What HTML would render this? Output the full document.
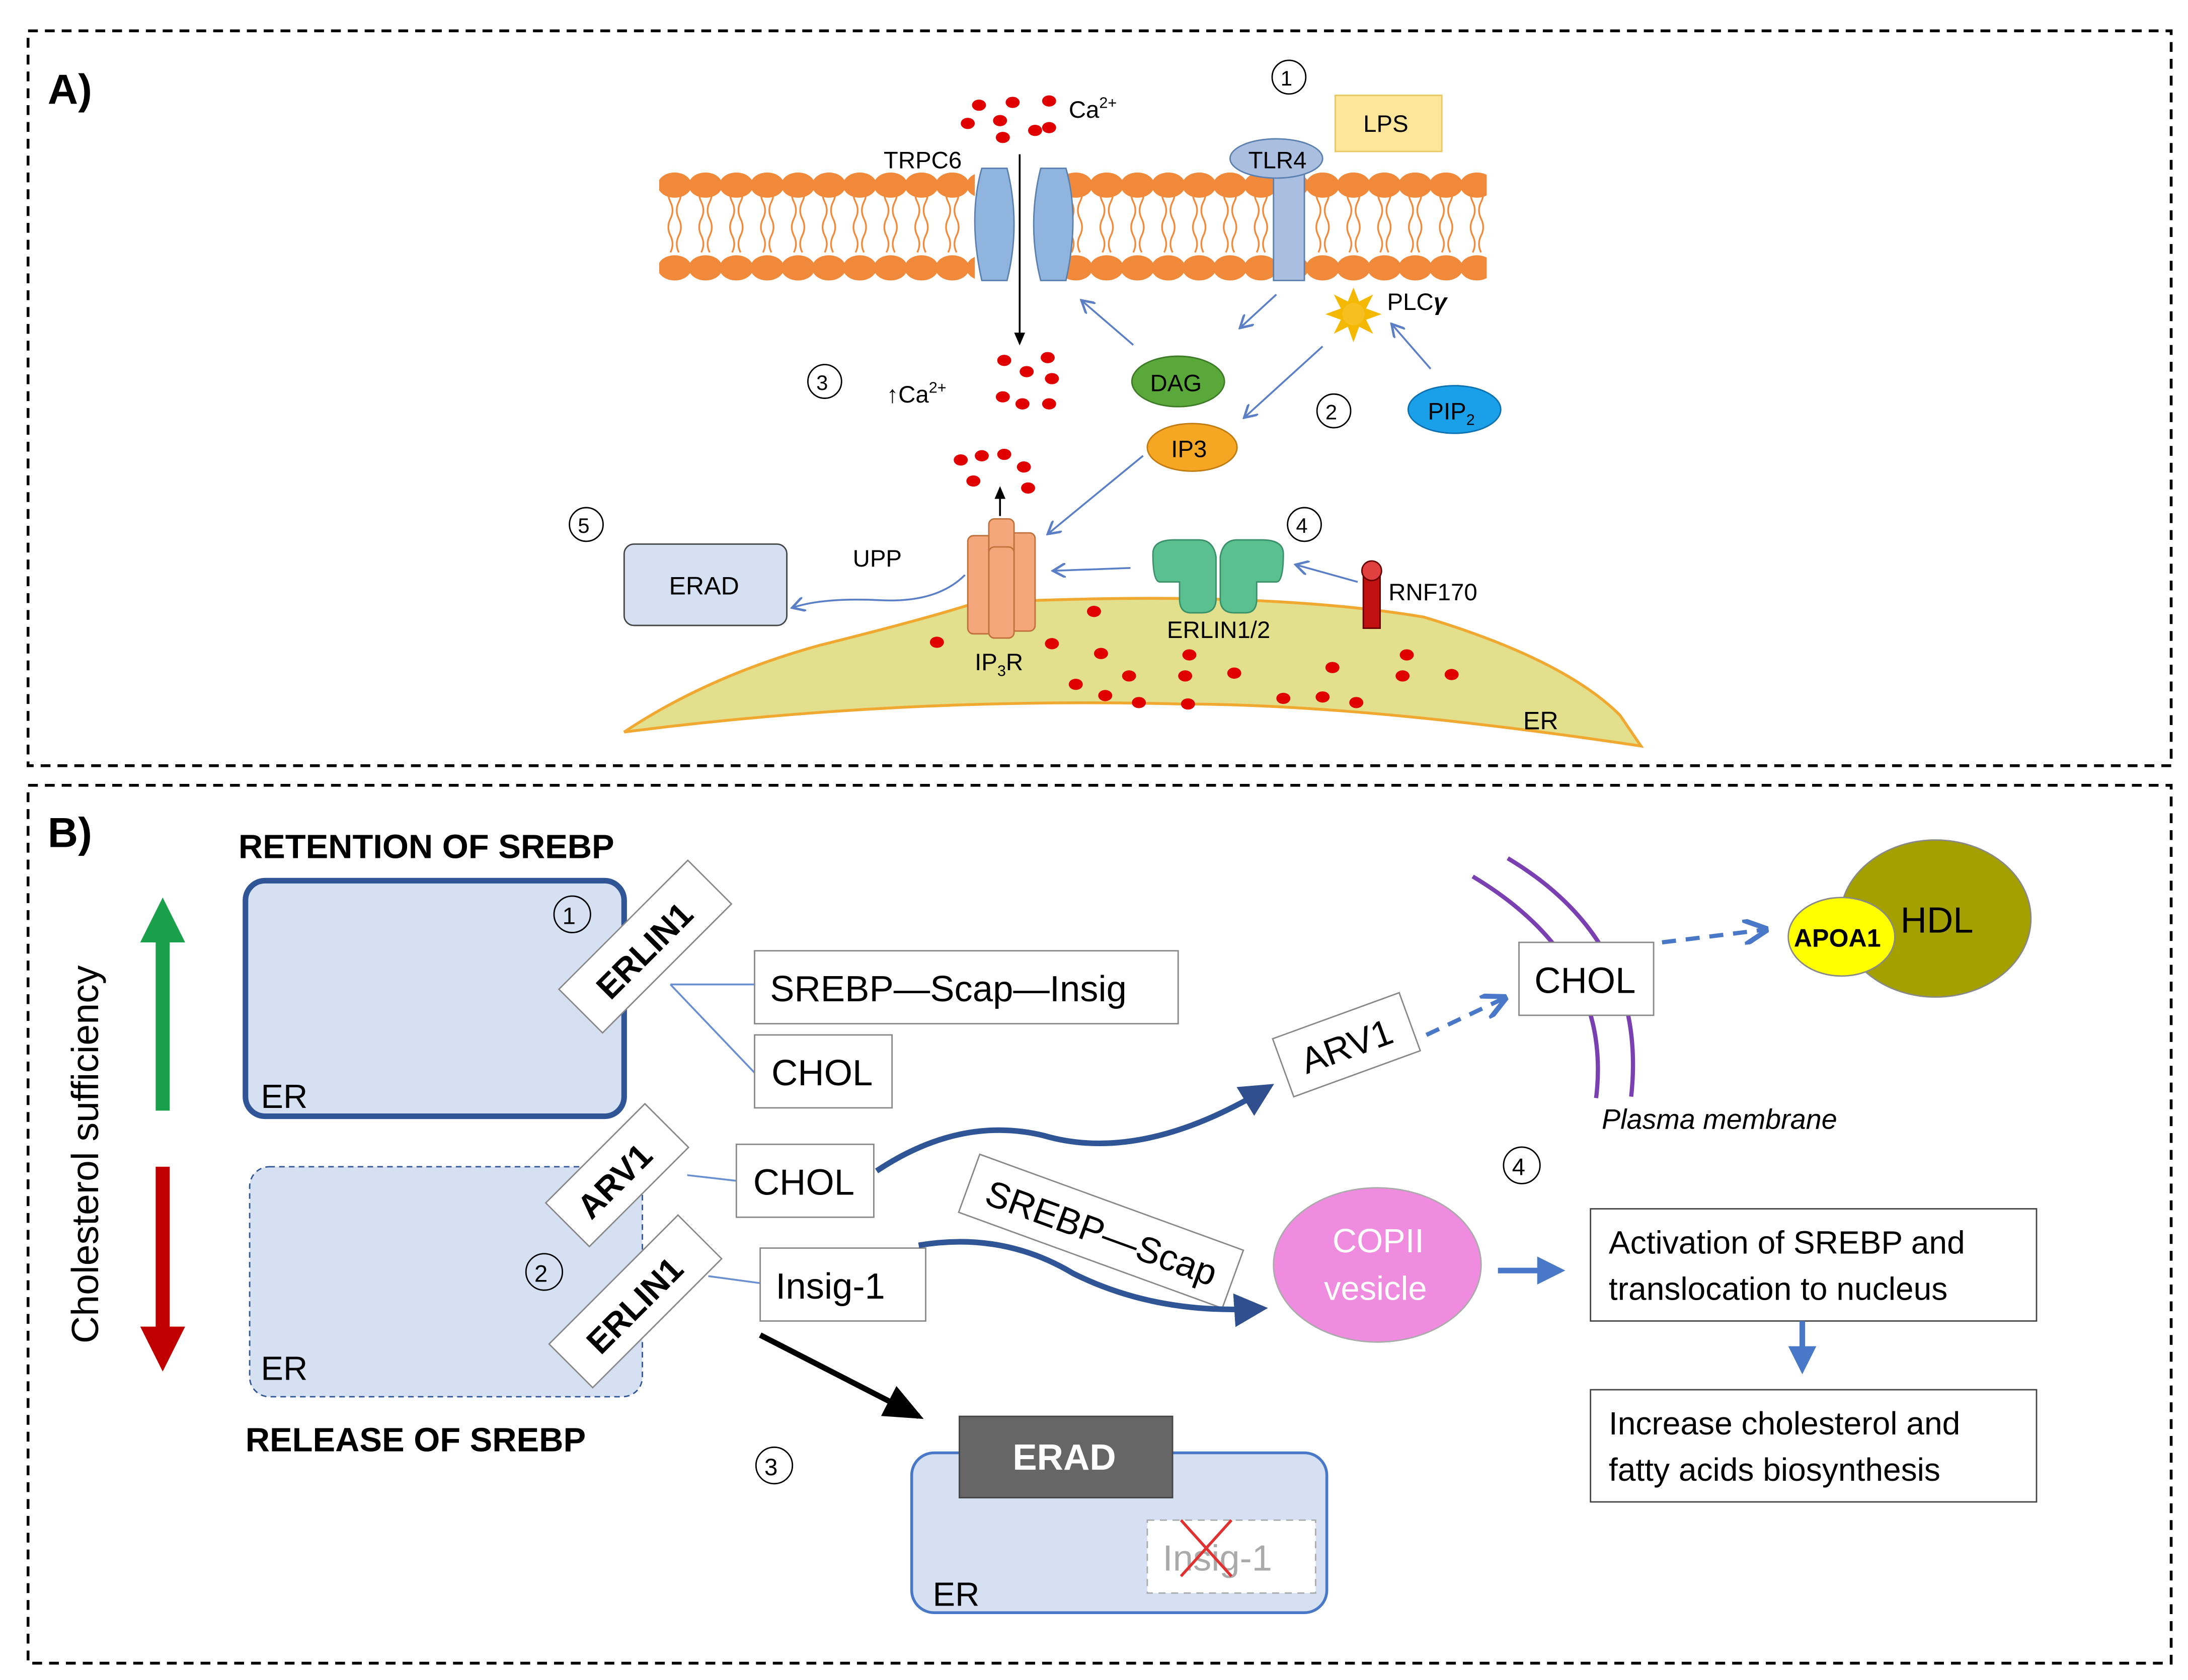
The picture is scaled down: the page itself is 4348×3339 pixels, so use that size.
<!DOCTYPE html>
<html><head><meta charset="utf-8"><style>
html,body{margin:0;padding:0;background:#fff}
svg{display:block}
text{font-family:"Liberation Sans",sans-serif}
</style></head><body>
<svg width="4348" height="3339" viewBox="0 0 1560 1198" preserveAspectRatio="none" xmlns="http://www.w3.org/2000/svg">
<defs>
<pattern id="lipT" x="470" y="120" width="22" height="80" patternUnits="userSpaceOnUse">
<g stroke="#f08a3a" stroke-width="1.2" fill="none">
<path d="M8 12 q-3 6 0 12 q3 6 0 12 q-3 6 0 12 q3 6 0 12"/>
<path d="M14 12 q3 6 0 12 q-3 6 0 12 q3 6 0 12 q-3 6 0 12"/>
</g>
<ellipse cx="11" cy="12" rx="12" ry="9" fill="#f08a3a"/>
<ellipse cx="11" cy="71" rx="12" ry="9" fill="#f08a3a"/>
</pattern>
<marker id="ab" markerWidth="8" markerHeight="8" refX="6" refY="4" orient="auto"><path d="M0,0 L7,4 L0,8" fill="none" stroke="#5b7fc7" stroke-width="1.3"/></marker>
<marker id="ak" markerWidth="8" markerHeight="8" refX="6" refY="4" orient="auto"><path d="M0,1 L7,4 L0,7z" fill="#000"/></marker>
<marker id="ad" markerWidth="6" markerHeight="6" refX="5" refY="3" orient="auto"><path d="M0,0 L6,3 L0,6z" fill="#2f4f8f"/></marker>
<marker id="ab2" markerWidth="6" markerHeight="6" refX="5" refY="3" orient="auto"><path d="M0,0 L6,3 L0,6" fill="none" stroke="#4a78c8" stroke-width="1.2"/></marker>
<marker id="af" markerWidth="5" markerHeight="5" refX="4" refY="2.5" orient="auto"><path d="M0,0 L5,2.5 L0,5z" fill="#4a78c8"/></marker>
</defs>
<rect x="20" y="22" width="1528" height="524" fill="none" stroke="#000" stroke-width="2" stroke-dasharray="7,5"/>
<rect x="20" y="560" width="1528" height="626" fill="none" stroke="#000" stroke-width="2" stroke-dasharray="7,5"/>
<text x="34" y="74" font-size="30" font-weight="bold">A)</text>
<text x="34" y="604" font-size="30" font-weight="bold">B)</text>

<!-- membrane -->
<rect x="470" y="120" width="225" height="82" fill="url(#lipT)"/>
<rect x="758" y="120" width="302" height="82" fill="url(#lipT)"/>
<!-- TRPC6 -->
<path d="M700 120 q-10 35 0 80 h18 q10 -40 0 -80z" fill="#8fb4dd" stroke="#5a80b0"/>
<path d="M760 120 q10 35 0 80 h-18 q-10 -40 0 -80z" fill="#8fb4dd" stroke="#5a80b0"/>
<line x1="727" y1="110" x2="727" y2="245" stroke="#000" stroke-width="1.3" marker-end="url(#ak)"/>
<text x="630" y="120" font-size="17">TRPC6</text>
<!-- TLR4 -->
<rect x="908" y="118" width="22" height="82" fill="#aabfe0" stroke="#5a80b0"/>
<ellipse cx="910" cy="113" rx="33" ry="14" fill="#aabfe0" stroke="#5a80b0"/>
<text x="890" y="120" font-size="17">TLR4</text>
<rect x="952" y="68" width="76" height="40" fill="#fde59a" stroke="#e9c860"/>
<text x="972" y="94" font-size="17">LPS</text>
<circle cx="919" cy="55" r="12" fill="none" stroke="#000"/><text x="913" y="61" font-size="15">1</text>
<!-- Ca dots -->
<g fill="#e00000">
<ellipse cx="698" cy="75" rx="5" ry="4"/><ellipse cx="722" cy="73" rx="5" ry="4"/><ellipse cx="748" cy="72" rx="5" ry="4"/>
<ellipse cx="690" cy="88" rx="5" ry="4"/><ellipse cx="713" cy="86" rx="5" ry="4"/><ellipse cx="738" cy="93" rx="5" ry="4"/><ellipse cx="748" cy="91" rx="5" ry="4"/><ellipse cx="715" cy="98" rx="5" ry="4"/>
<ellipse cx="716" cy="257" rx="5" ry="4"/><ellipse cx="747" cy="255" rx="5" ry="4"/><ellipse cx="732" cy="265" rx="5" ry="4"/><ellipse cx="750" cy="270" rx="5" ry="4"/><ellipse cx="715" cy="283" rx="5" ry="4"/><ellipse cx="729" cy="288" rx="5" ry="4"/><ellipse cx="748" cy="288" rx="5" ry="4"/>
<ellipse cx="685" cy="328" rx="5" ry="4"/><ellipse cx="700" cy="325" rx="5" ry="4"/><ellipse cx="716" cy="324" rx="5" ry="4"/><ellipse cx="730" cy="333" rx="5" ry="4"/><ellipse cx="694" cy="343" rx="5" ry="4"/><ellipse cx="733" cy="348" rx="5" ry="4"/>
</g>
<text x="762" y="84" font-size="17">Ca<tspan font-size="11" dy="-7">2+</tspan></text>
<circle cx="588" cy="272" r="12" fill="none" stroke="#000"/><text x="582" y="278" font-size="15">3</text>
<text x="632" y="287" font-size="17">↑Ca<tspan font-size="11" dy="-7">2+</tspan></text>
<!-- signaling -->
<ellipse cx="840" cy="272" rx="33" ry="18" fill="#5aa83a" stroke="#3d7a25"/><text x="820" y="279" font-size="17">DAG</text>
<ellipse cx="850" cy="319" rx="32" ry="17" fill="#f5a623" stroke="#c07a10"/><text x="835" y="326" font-size="17">IP3</text>
<ellipse cx="1037" cy="292" rx="33" ry="17" fill="#1aa0e8" stroke="#0a70b0"/><text x="1018" y="299" font-size="17">PIP<tspan font-size="11" dy="4">2</tspan></text>
<polygon points="965,205 969,215 979,210 974,220 985,224 974,228 979,238 969,233 965,244 961,233 951,238 956,228 945,224 956,220 951,210 961,215" fill="#f5b800"/>
<circle cx="965" cy="224" r="8" fill="#f5c020"/>
<text x="989" y="221" font-size="17">PLC<tspan font-weight="bold" font-style="italic">γ</tspan></text>
<circle cx="951" cy="293" r="12" fill="none" stroke="#000"/><text x="945" y="299" font-size="15">2</text>
<g stroke="#5b7fc7" stroke-width="1.3" fill="none" marker-end="url(#ab)">
<line x1="910" y1="210" x2="885" y2="233"/>
<line x1="808" y1="246" x2="772" y2="215"/>
<line x1="1020" y1="263" x2="993" y2="232"/>
<line x1="943" y1="247" x2="888" y2="297"/>
<line x1="815" y1="325" x2="748" y2="380"/>
<line x1="806" y1="405" x2="752" y2="407"/>
<line x1="968" y1="415" x2="925" y2="403"/>
<path d="M688 410 q-20 20 -60 18 q-40 -2 -62 5"/>
</g>
<!-- ER A -->
<path d="M445 522 q60 -40 140 -62 q80 -20 110 -30 q200 -10 320 10 q100 30 140 70 l15 22 q-200 -30 -330 -30 q-200 -5 -395 20z" fill="#e2df8d" stroke="#f0a830" stroke-width="2"/>
<g fill="#e00000">
<ellipse cx="668" cy="458" rx="5" ry="4"/><ellipse cx="780" cy="436" rx="5" ry="4"/><ellipse cx="750" cy="459" rx="5" ry="4"/><ellipse cx="785" cy="466" rx="5" ry="4"/><ellipse cx="805" cy="482" rx="5" ry="4"/><ellipse cx="767" cy="488" rx="5" ry="4"/><ellipse cx="788" cy="496" rx="5" ry="4"/><ellipse cx="812" cy="501" rx="5" ry="4"/><ellipse cx="848" cy="467" rx="5" ry="4"/><ellipse cx="845" cy="482" rx="5" ry="4"/><ellipse cx="880" cy="480" rx="5" ry="4"/><ellipse cx="847" cy="502" rx="5" ry="4"/><ellipse cx="915" cy="498" rx="5" ry="4"/><ellipse cx="943" cy="497" rx="5" ry="4"/><ellipse cx="967" cy="501" rx="5" ry="4"/><ellipse cx="950" cy="476" rx="5" ry="4"/><ellipse cx="1003" cy="467" rx="5" ry="4"/><ellipse cx="1000" cy="482" rx="5" ry="4"/><ellipse cx="1035" cy="481" rx="5" ry="4"/>
</g>
<text x="1086" y="520" font-size="18">ER</text>
<!-- IP3R -->
<g fill="#f4a77a" stroke="#c0703a">
<rect x="690" y="382" width="18" height="70" rx="4"/><rect x="720" y="380" width="18" height="70" rx="4"/><rect x="705" y="370" width="18" height="30" rx="4"/><rect x="705" y="390" width="18" height="65" rx="4"/>
</g>
<line x1="713" y1="368" x2="713" y2="348" stroke="#000" stroke-width="1.3" marker-end="url(#ak)"/>
<text x="695" y="478" font-size="17">IP<tspan font-size="11" dy="4">3</tspan><tspan dy="-4">R</tspan></text>
<!-- ERLIN1/2 -->
<path d="M822 395 q0 -10 15 -10 h18 q10 0 12 12 v30 q0 10 -10 10 h-8 q-8 0 -8 -10 v-12 h-14 q-5 0 -5 -20z" fill="#5ac08f" stroke="#3a9068"/>
<path d="M915 395 q0 -10 -15 -10 h-18 q-10 0 -12 12 v30 q0 10 10 10 h8 q8 0 8 -10 v-12 h14 q5 0 5 -20z" fill="#5ac08f" stroke="#3a9068"/>
<text x="832" y="455" font-size="17">ERLIN1/2</text>
<circle cx="930" cy="374" r="12" fill="none" stroke="#000"/><text x="924" y="380" font-size="15">4</text>
<rect x="972" y="408" width="12" height="40" fill="#c01010" stroke="#600"/><circle cx="978" cy="407" r="7" fill="#e04040" stroke="#600"/>
<text x="990" y="428" font-size="17">RNF170</text>
<circle cx="418" cy="374" r="12" fill="none" stroke="#000"/><text x="412" y="380" font-size="15">5</text>
<rect x="445" y="388" width="116" height="58" rx="7" fill="#d6e0f3" stroke="#444"/><text x="477" y="424" font-size="18">ERAD</text>
<text x="608" y="404" font-size="17">UPP</text>

<!-- Panel B -->
<text x="170" y="612" font-size="24" font-weight="bold">RETENTION OF SREBP</text>
<text x="175" y="1035" font-size="24" font-weight="bold">RELEASE OF SREBP</text>
<text transform="translate(70,958) rotate(-90)" font-size="27">Cholesterol sufficiency</text>
<polygon points="116,640 100,672 111,672 111,792 121,792 121,672 132,672" fill="#1aa04a"/>
<polygon points="116,978 100,946 111,946 111,832 121,832 121,946 132,946" fill="#c00000"/>
<rect x="175" y="628" width="270" height="168" rx="14" fill="#d6e0f3" stroke="#2f5597" stroke-width="4"/>
<text x="186" y="790" font-size="24">ER</text>
<circle cx="408" cy="652" r="13" fill="none" stroke="#000"/><text x="401" y="659" font-size="17">1</text>
<rect x="178" y="832" width="280" height="164" rx="14" fill="#d6e0f3" stroke="#2f5597" stroke-dasharray="4,3"/>
<text x="186" y="984" font-size="24">ER</text>
<circle cx="388" cy="907" r="13" fill="none" stroke="#000"/><text x="381" y="914" font-size="17">2</text>
<g transform="translate(460,675) rotate(-45)"><rect x="-65" y="-22" width="130" height="44" fill="#fff" stroke="#888"/><text x="-45" y="10" font-size="24" font-weight="bold">ERLIN1</text></g>
<g transform="translate(440,838) rotate(-45)"><rect x="-50" y="-22" width="100" height="44" fill="#fff" stroke="#888"/><text x="-36" y="10" font-size="24" font-weight="bold">ARV1</text></g>
<g transform="translate(453,928) rotate(-45)"><rect x="-65" y="-22" width="130" height="44" fill="#fff" stroke="#888"/><text x="-45" y="10" font-size="24" font-weight="bold">ERLIN1</text></g>
<g stroke="#6a8fd0" stroke-width="1.3" fill="none">
<path d="M478 702 h60 M478 702 L538 765"/>
<line x1="490" y1="838" x2="525" y2="842"/>
<line x1="505" y1="910" x2="542" y2="915"/>
</g>
<rect x="538" y="678" width="302" height="52" fill="#fff" stroke="#888"/><text x="549" y="714" font-size="26">SREBP—Scap—Insig</text>
<rect x="538" y="738" width="98" height="52" fill="#fff" stroke="#888"/><text x="550" y="774" font-size="26">CHOL</text>
<rect x="525" y="816" width="98" height="52" fill="#fff" stroke="#888"/><text x="537" y="852" font-size="26">CHOL</text>
<rect x="542" y="890" width="118" height="52" fill="#fff" stroke="#888"/><text x="553" y="926" font-size="26">Insig-1</text>
<g transform="translate(785,878) rotate(20)"><rect x="-100" y="-22" width="200" height="44" fill="#fff" stroke="#888"/><text x="-86" y="10" font-size="26">SREBP—Scap</text></g>
<g transform="translate(960,745) rotate(-20)"><rect x="-48" y="-22" width="96" height="44" fill="#fff" stroke="#888"/><text x="-34" y="10" font-size="26">ARV1</text></g>
<path d="M625 835 q60 -40 120 -25 q70 20 160 -35" stroke="#2f5597" stroke-width="4" fill="none" marker-end="url(#ad)"/>
<path d="M655 888 q60 -10 110 20 q60 30 135 25" stroke="#2f5597" stroke-width="4" fill="none" marker-end="url(#ad)"/>
<line x1="1017" y1="738" x2="1072" y2="712" stroke="#4a78c8" stroke-width="3" stroke-dasharray="10,7" marker-end="url(#ab2)"/>
<line x1="1185" y1="672" x2="1258" y2="663" stroke="#4a78c8" stroke-width="3" stroke-dasharray="10,7" marker-end="url(#ab2)"/>
<path d="M1050 625 q100 60 88 158" stroke="#7a3fb0" stroke-width="3" fill="none"/>
<path d="M1075 612 q100 60 88 170" stroke="#7a3fb0" stroke-width="3" fill="none"/>
<rect x="1083" y="672" width="96" height="52" fill="#fff" stroke="#888"/><text x="1094" y="708" font-size="26">CHOL</text>
<text x="1142" y="805" font-size="20" font-style="italic">Plasma membrane</text>
<ellipse cx="1380" cy="655" rx="68" ry="56" fill="#a4a000" stroke="#888"/>
<ellipse cx="1313" cy="668" rx="38" ry="28" fill="#ffff00" stroke="#888"/>
<text x="1279" y="675" font-size="18" font-weight="bold">APOA1</text>
<text x="1355" y="665" font-size="26">HDL</text>
<circle cx="1085" cy="831" r="13" fill="none" stroke="#000"/><text x="1078" y="838" font-size="17">4</text>
<ellipse cx="982" cy="902" rx="74" ry="55" fill="#f08ce0" stroke="#aaa"/>
<text x="950" y="893" font-size="24" fill="#fff">COPII</text><text x="944" y="927" font-size="24" fill="#fff">vesicle</text>
<line x1="1068" y1="906" x2="1112" y2="906" stroke="#4a78c8" stroke-width="4" marker-end="url(#af)"/>
<rect x="1134" y="862" width="318" height="80" fill="#fff" stroke="#444"/>
<text x="1147" y="894" font-size="23">Activation of SREBP and</text><text x="1147" y="927" font-size="23">translocation to nucleus</text>
<line x1="1285" y1="942" x2="1285" y2="976" stroke="#4a78c8" stroke-width="4" marker-end="url(#af)"/>
<rect x="1134" y="991" width="318" height="80" fill="#fff" stroke="#444"/>
<text x="1147" y="1023" font-size="23">Increase cholesterol and</text><text x="1147" y="1056" font-size="23">fatty acids biosynthesis</text>
<line x1="542" y1="952" x2="655" y2="1010" stroke="#000" stroke-width="4" marker-end="url(#ak)"/>
<circle cx="552" cy="1045" r="13" fill="none" stroke="#000"/><text x="545" y="1052" font-size="17">3</text>
<rect x="650" y="1036" width="296" height="114" rx="16" fill="#d6e0f3" stroke="#4a78c8" stroke-width="2"/>
<rect x="684" y="1010" width="152" height="58" fill="#666" stroke="#444"/><text x="722" y="1048" font-size="26" font-weight="bold" fill="#fff">ERAD</text>
<rect x="818" y="1084" width="120" height="52" fill="#fff" stroke="#aaa" stroke-dasharray="5,4"/><text x="829" y="1120" font-size="26" fill="#aaa">Insig-1</text>
<line x1="842" y1="1084" x2="878" y2="1124" stroke="#e03030" stroke-width="2"/><line x1="878" y1="1084" x2="842" y2="1124" stroke="#e03030" stroke-width="2"/>
<text x="665" y="1145" font-size="24">ER</text>
</svg>
</body></html>
